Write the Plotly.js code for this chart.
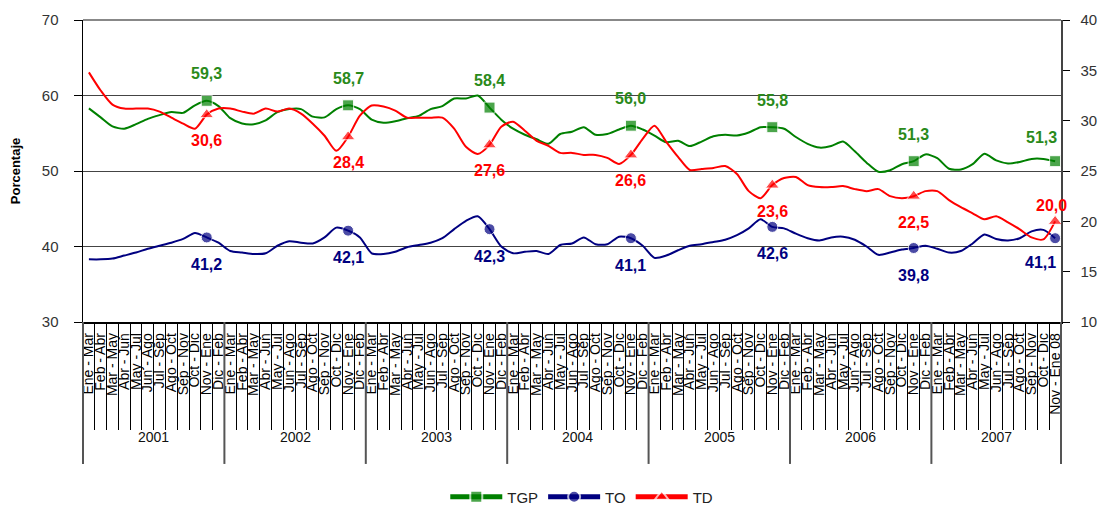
<!DOCTYPE html>
<html><head><meta charset="utf-8">
<script src="https://cdn.plot.ly/plotly-3.0.1.min.js"></script>
<style>html,body{margin:0;padding:0;background:#fff}#chart{width:1104px;height:515px}</style>
</head><body><div id="chart"></div>
<script>
// ---- data ----
const years = ['2001','2002','2003','2004','2005','2006','2007'];
const periods = ['Ene - Mar','Feb - Abr','Mar - May','Abr - Jun','May - Jul','Jun - Ago','Jul - Sep','Ago - Oct','Sep - Nov','Oct - Dic','Nov - Ene','Dic - Feb'];
const periods2007 = ['Ene - Mar','Feb - Abr','Mar - May','Abr - Jun','May - Jul','Jun - Ago','Jul - Sep','Ago - Oct','Sep - Nov','Oct - Dic','Nov - Ene 08'];
const markedPeriods = ['Nov - Ene','Nov - Ene 08'];

const tgp = [58.3,57.1,55.9,55.6,56.2,56.9,57.4,57.8,57.7,58.7,59.3,58.6,
  57.0,56.3,56.2,56.7,57.8,58.2,58.2,57.2,57.1,58.2,58.7,58.2,
  56.8,56.4,56.6,57.0,57.3,58.2,58.6,59.6,59.6,60.0,58.4,56.8,
  55.6,54.8,54.2,53.6,54.9,55.2,55.8,54.8,54.9,55.5,56.0,55.5,
  54.7,53.8,54.0,53.3,53.9,54.6,54.8,54.7,55.1,55.8,55.8,55.6,
  54.5,53.6,53.1,53.3,53.9,52.6,51.1,49.9,50.1,50.9,51.3,52.2,
  51.7,50.3,50.2,50.9,52.3,51.4,51.0,51.2,51.6,51.6,51.3];
const to = [38.3,38.3,38.4,38.8,39.2,39.7,40.1,40.5,41.0,41.8,41.2,40.5,
  39.4,39.2,39.0,39.1,40.1,40.7,40.5,40.4,41.2,42.5,42.1,41.2,
  39.1,39.0,39.3,39.9,40.2,40.5,41.1,42.3,43.4,44.0,42.3,40.0,
  39.1,39.3,39.4,39.0,40.2,40.4,41.2,40.3,40.3,41.3,41.1,40.1,
  38.5,38.8,39.5,40.1,40.3,40.6,40.9,41.5,42.4,43.6,42.6,42.4,
  41.7,41.1,40.8,41.2,41.3,40.9,40.0,38.9,39.2,39.6,39.8,40.1,
  39.7,39.2,39.4,40.4,41.6,41.0,40.8,41.1,42.0,42.2,41.1];
const td = [34.8,33.0,31.6,31.2,31.2,31.2,30.9,30.3,29.7,29.2,30.6,31.2,
  31.2,30.9,30.7,31.2,30.9,31.2,30.7,29.7,28.5,27.0,28.4,30.5,
  31.5,31.4,31.0,30.3,30.3,30.3,30.3,29.2,27.4,26.7,27.6,29.4,
  29.9,29.0,28.0,27.5,26.8,26.8,26.6,26.6,26.3,25.7,26.6,28.2,
  29.5,27.9,26.4,25.1,25.2,25.3,25.5,24.7,23.0,22.3,23.6,24.3,
  24.4,23.6,23.4,23.4,23.5,23.2,23.0,23.2,22.5,22.3,22.5,23.0,
  23.0,22.1,21.4,20.8,20.2,20.5,19.9,19.2,18.4,18.2,20.0];

// ---- build categories ----
const categories = [], catYear = [];
years.forEach(y => {
  const list = (y === '2007') ? periods2007 : periods;
  list.forEach(p => { categories.push(p); catYear.push(y); });
});
const idx = categories.map((_, i) => i);
const marked = idx.filter(i => markedPeriods.includes(categories[i]));
const lastIdx = idx.length - 1;

const GREEN = '#008000', NAVY = '#000080', RED = '#ff0000';
const FONT = 'Liberation Sans, Arial, sans-serif';

function sizes(s) { return idx.map(i => marked.includes(i) ? s : 0); }

const traces = [
  {x: idx, y: tgp, name: 'TGP', mode: 'lines+markers', yaxis: 'y',
   line: {color: GREEN, width: 2, shape: 'spline', smoothing: 0.7},
   marker: {symbol: 'square', size: sizes(11), color: GREEN}},
  {x: idx, y: to, name: 'TO', mode: 'lines+markers', yaxis: 'y',
   line: {color: NAVY, width: 2, shape: 'spline', smoothing: 0.7},
   marker: {symbol: 'circle', size: sizes(11), color: NAVY}},
  {x: idx, y: td, name: 'TD', mode: 'lines+markers', yaxis: 'y2',
   line: {color: RED, width: 2, shape: 'spline', smoothing: 0.7},
   marker: {symbol: 'triangle-up', size: sizes(12), color: RED}}
];

const fmt = v => v.toFixed(1).replace('.', ',');
const annotations = [];
const labelCfg = [
  {data: tgp, yref: 'y', color: '#2a8a1a', shift: 27, lastShift: 24, lastX: -14},
  {data: to, yref: 'y', color: NAVY, shift: -27, lastShift: -24, lastX: -15},
  {data: td, yref: 'y2', color: RED, shift: -26, lastShift: 16, lastX: -4}
];
labelCfg.forEach(c => {
  marked.forEach(i => {
    annotations.push({x: i, y: c.data[i], xref: 'x', yref: c.yref, text: fmt(c.data[i]),
      showarrow: false, yshift: i === lastIdx ? c.lastShift : c.shift,
      xshift: i === lastIdx ? c.lastX : 0,
      font: {family: FONT, size: 16, color: c.color, weight: 'bold'}});
  });
});
// year labels
years.forEach(y => {
  const ii = idx.filter(i => catYear[i] === y);
  annotations.push({x: (ii[0] + ii[ii.length - 1]) / 2, y: -0.415, xref: 'x', yref: 'paper',
    text: y, showarrow: false, font: {family: FONT, size: 14, color: '#111'}});
});

// year dividers
const n = idx.length;
const shapes = [];
const bounds = [-0.5];
idx.forEach(i => { if (i > 0 && catYear[i] !== catYear[i - 1]) bounds.push(i - 0.5); });
bounds.push(n - 0.5);
bounds.forEach(b => {
  shapes.push({type: 'line', xref: 'paper', yref: 'paper', x0: (b + 0.5) / n, x1: (b + 0.5) / n,
    y0: 0, y1: -0.47, line: {color: '#555', width: 2}});
});
// top border of plot area
shapes.push({type: 'line', xref: 'paper', yref: 'paper', x0: 0, x1: 1, y0: 1, y1: 1,
  line: {color: '#888', width: 2}});

const layout = {
  width: 1104, height: 515,
  margin: {l: 83, r: 43, t: 20, b: 193},
  paper_bgcolor: '#fff', plot_bgcolor: '#fff',
  font: {family: FONT, color: '#222'},
  showlegend: true,
  legend: {orientation: 'h', x: 0.51, xanchor: 'center', xref: 'paper', y: 0.035, yref: 'container', yanchor: 'middle',
    font: {family: FONT, size: 15, color: '#222'}, itemsizing: 'constant', itemwidth: 52},
  xaxis: {type: 'linear', range: [-0.5, n - 0.5], tickmode: 'array', tickvals: idx, ticktext: categories,
    tickangle: -90, ticks: '', tickfont: {family: FONT, size: 14, color: '#000'}, ticklabelstandoff: 4,
    showline: true, linecolor: '#000', linewidth: 1.5, showgrid: false, zeroline: false, automargin: false,
    minor: {ticks: 'outside', ticklen: 106, tickcolor: '#000', tickwidth: 1, tick0: -0.5, dtick: 1, showgrid: false}},
  yaxis: {range: [30, 70], dtick: 10, ticks: 'outside', ticklen: 8, tickcolor: '#000',
    showline: true, linecolor: '#000', linewidth: 1.5, gridcolor: '#444', gridwidth: 1, zeroline: false,
    tickfont: {family: FONT, size: 15, color: '#333'}, ticklabelstandoff: 12, automargin: false,
    title: {text: 'Porcentaje', standoff: 18, font: {family: FONT, size: 13, color: '#000', weight: 'bold'}}},
  yaxis2: {range: [10, 40], dtick: 5, overlaying: 'y', side: 'right', ticks: 'outside', ticklen: 7,
    tickcolor: '#000', showline: true, linecolor: '#444', linewidth: 1.5, showgrid: false, zeroline: false,
    tickfont: {family: FONT, size: 15, color: '#333'}, ticklabelstandoff: 8, automargin: false},
  annotations: annotations,
  shapes: shapes
};

Plotly.newPlot('chart', traces, layout, {displayModeBar: false, staticPlot: true});
</script></body></html>
